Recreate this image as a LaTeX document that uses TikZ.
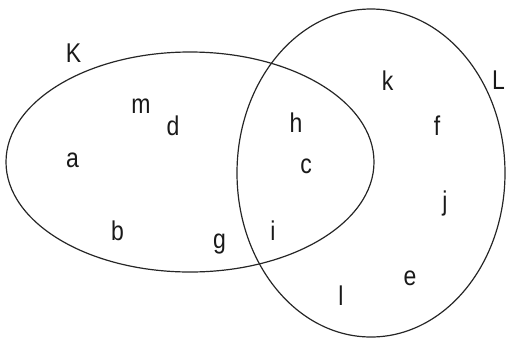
\documentclass[tikz,border=0pt]{standalone}
\usepackage{fontspec}
\setmainfont{Liberation Sans}
\newcommand\tallglyph[1]{\scalebox{1}[1.18]{#1}}
\begin{document}
\begin{tikzpicture}[x=1pt,y=-1pt,
  setline/.style={draw=black!85,line width=1.2pt},
  lbl/.style={inner sep=0pt,anchor=base,font=\fontsize{23}{26}\selectfont,text=black!90}]
\useasboundingbox (0,0) rectangle (506,338);
% the two sets
\draw[setline] (190,162) ellipse [x radius=184, y radius=110];
\draw[setline] (371,173) ellipse [x radius=134, y radius=164];
% set names
\node[lbl] (nK) at (73.5,62) {\tallglyph{K}};
\node[lbl] (nL) at (498.5,89) {\tallglyph{L}};
% elements of K only
\node[lbl] (em) at (141,113) {\tallglyph{m}};
\node[lbl] (ed) at (173,135) {\tallglyph{d}};
\node[lbl] (ea) at (72.5,167) {\tallglyph{a}};
\node[lbl] (eb) at (117.5,240) {\tallglyph{b}};
\node[lbl] (eg) at (219.5,248) {\tallglyph{g}};
% elements of both
\node[lbl] (eh) at (296,132) {\tallglyph{h}};
\node[lbl] (ec) at (306,173) {\tallglyph{c}};
\node[lbl] (ei) at (273,240) {\tallglyph{i}};
% elements of L only
\node[lbl] (ek) at (387.5,90) {\tallglyph{k}};
\node[lbl] (ef) at (437,135) {\tallglyph{f}};
\node[lbl] (ej) at (445,210) {\tallglyph{j}};
\node[lbl] (ee) at (410,285) {\tallglyph{e}};
\node[lbl] (el) at (341,305) {\tallglyph{l}};
\end{tikzpicture}
\end{document}
